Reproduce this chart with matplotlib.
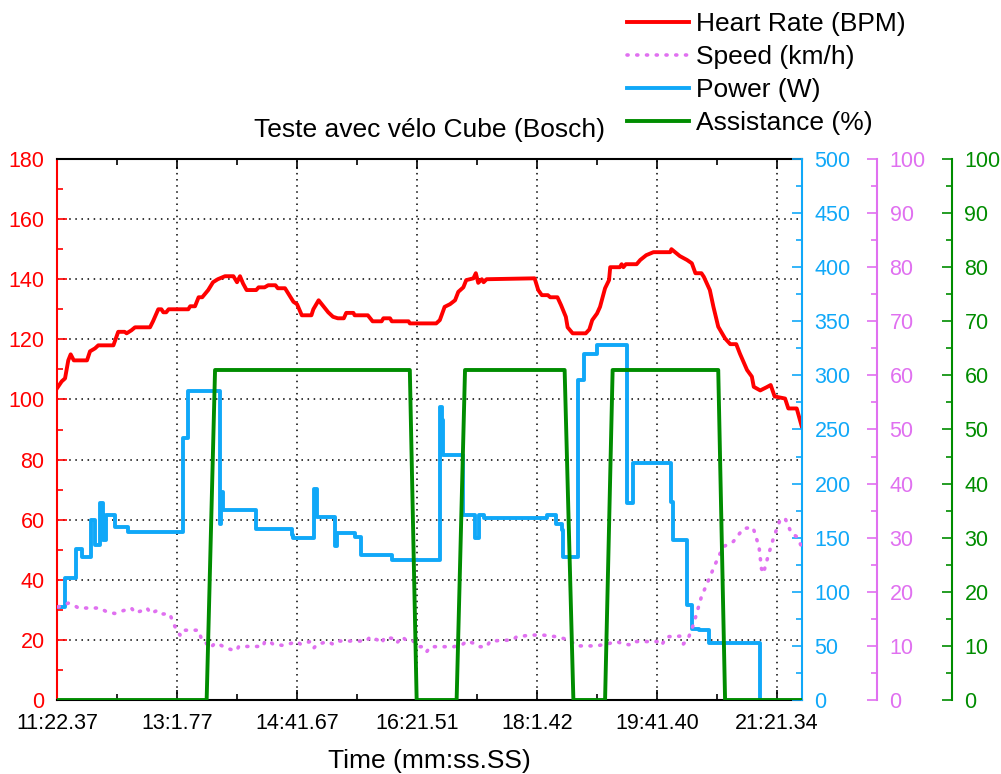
#!/usr/bin/env python3

import matplotlib
matplotlib.use('Agg')
import matplotlib.pyplot as plt
from matplotlib.ticker import MultipleLocator, FixedLocator

plt.rcParams['font.family'] = ['Liberation Sans', 'DejaVu Sans']

RED = '#ff0000'
BLUE = '#10a8f8'
VIOLET = '#e070f0'
GREEN = '#008c00'

# x is a sample index, ticks labelled with the session clock
tick_pos = [0, 100, 200, 300, 400, 500, 600]
tick_lab = ['11:22.37', '13:1.77', '14:41.67', '16:21.51', '18:1.42', '19:41.40', '21:21.34']

hr_x = [0, 3.9, 6.7, 9.4, 11.4, 14, 25, 27.5, 31.7, 34.4, 47, 51, 56.4, 58, 62, 65, 77.5, 80,
        84.4, 87, 88.6, 91, 93, 109.4, 111, 115, 118, 121, 126, 130, 134, 140, 147, 150, 152.5,
        155, 158, 166, 168, 173, 176, 182, 184, 190, 197, 200, 204, 212, 213.6, 218, 222, 226,
        230, 234, 239, 241, 247, 248, 259, 263, 270.5, 272, 277.5, 279, 293, 294, 316, 319, 323,
        327.5, 331.7, 334.4, 338.6, 341, 347, 349, 351, 354, 355.5, 358, 398, 401, 404, 409, 411,
        417, 420, 424, 425.5, 429.7, 440.6, 443.6, 446, 450, 452.5, 456.7, 460, 461, 469, 470.5,
        472, 474, 483, 486, 491, 497, 511, 512, 515, 519, 525, 529, 532, 537, 539, 544, 547, 551,
        556.7, 561, 566, 569, 575, 579, 580.6, 586, 591, 594.7, 598, 606.7, 609.4, 616.4, 620.6]
hr_y = [103.7, 106, 107, 113, 115, 113, 113, 116, 117, 118, 118, 122.5, 122.5, 122, 123, 124, 124, 126,
        130, 130, 129, 129, 130, 130, 131, 131, 134, 134, 136.4, 139, 140, 141, 141, 139, 141,
        138.6, 136.4, 136.4, 137.3, 137.3, 138, 138, 137, 137, 132.5, 131.7, 128, 128, 130, 133, 131, 129,
        127.5, 127, 127, 128.8, 128.8, 128, 128, 126, 126, 127, 127, 126, 126, 125.3, 125.3, 126.4, 130.8,
        131.7, 133, 135.8, 137.3, 139.7, 140.3, 142, 138.8, 140, 139, 140, 140.3, 136.4, 134.7, 134.7, 134,
        134, 131.4, 127.5, 124, 122, 122, 123.3, 126.4, 128.6, 130.8, 137, 139.7, 144, 144, 145,
        144, 145, 145, 146.4, 148, 149, 149, 150, 149, 147.7, 146.4, 145.3, 142, 142, 140.8, 136.4, 130.8, 124.2,
        120.3, 118.4, 118.4, 115.3, 109.8, 107.6, 104.2, 103, 104, 104.8, 101, 100.3, 97, 97, 91]

spd_x = [1, 9.4, 15, 17.8, 35.8, 41.4, 48, 55, 62, 65, 72, 75, 78, 83, 86, 94, 97, 99.7, 102.5, 104,
         118, 120.6, 123, 127.5, 131.7, 135, 141, 147, 150, 151.4, 172, 173, 177.5, 180, 188, 195.6,
         200, 203, 211, 214, 216.7, 226, 230, 234, 258, 261, 269, 270.6, 273, 279, 283, 287.5, 291.7,
         297, 301, 305, 308, 311, 330.6, 337.5, 341.7, 347, 351, 358, 361, 380, 383, 395.6, 405, 416,
         427, 433, 449.7, 461, 466.7, 472, 479, 482, 497, 502.5, 504, 508, 519, 522, 526, 530.3, 537,
         543, 548.3, 555, 563.6, 572, 580, 585, 587, 588.6, 592.8, 597, 602.5, 606.7, 612, 616.4, 620.6]
spd_y = [17.2, 17.9, 17.4, 17, 17, 16.3, 16, 16.5, 17, 16.1, 16.6, 17, 16, 16.5, 15.9, 15.9, 14.2, 12.9, 12, 12.9,
         12.9, 11.1, 10.9, 9.6, 10.5, 10.3, 9.6, 9.2, 9.2, 9.9, 9.9, 10.8, 10.8, 10.3, 10.1, 10.5,
         10.8, 10.3, 10.8, 9.6, 10.3, 10.8, 10.3, 10.9, 10.9, 11.7, 10.9, 10.5, 11.6, 11.4, 10.5, 11.7, 10.9,
         10.9, 9.85, 9.85, 8.9, 9.85, 9.85, 10.2, 10.9, 10.5, 9.85, 9.85, 10.9, 11.1, 11.7, 12, 12, 11.7,
         11.1, 10, 10, 10.5, 10.8, 10.3, 10.2, 10.8, 10.8, 10.8, 10.2, 11.7, 11.8, 10.35, 11.4, 13.9, 19.1,
         22.2, 25, 28.3, 29.3, 31.7, 31.9, 28.3, 24.3, 23.4, 26.8, 29.9, 33.3, 33.6, 30.8, 30.2, 28.3]

# power changes in steps: value holds from pw_x[i] until pw_x[i+1]
pw_x = [0, 6.7, 15.8, 20.6, 28, 31.7, 36, 38.6, 40.5, 48.3, 59.4, 104.7, 109.4, 135.8, 137, 138.5,
        165.8, 195.6, 197, 214, 216.3, 232, 233.5, 248.3, 253.6, 279, 319, 320.5, 322, 338.6, 348, 352,
        356, 408, 416, 420.6, 422, 434.4, 439, 450, 474.7, 480, 511.4, 513, 525, 529, 535, 543.6, 585.8]
pw_y = [86, 113, 140, 132.5, 166, 143, 182, 148, 171, 160, 155, 242, 286, 163, 192.5, 176,
        158, 152.5, 149.5, 195, 169, 142, 154, 151, 134, 129.4, 271, 259, 226, 171, 149.4, 171,
        168.5, 171, 163, 157, 132.4, 296, 320, 328, 182, 219, 183, 148, 88, 66, 64.7, 52.4, 0]

as_x = [0, 124.7, 131.7, 294, 299.7, 333, 340, 423, 430.3, 456.7, 463, 551, 556.7, 620.6]
as_y = [0, 0, 61, 61, 0, 0, 61, 61, 0, 0, 61, 61, 0, 0]


def main():
    fig = plt.figure(figsize=(10.01, 7.74), dpi=100)
    ax = fig.add_axes([57 / 1001, 1 - 700 / 774, 745 / 1001, 541 / 774])
    ax_p = ax.twinx()
    ax_s = ax.twinx()
    ax_a = ax.twinx()

    l_hr, = ax.plot(hr_x, hr_y, color=RED, lw=2.8, label='Heart Rate (BPM)')
    l_pw, = ax_p.plot(pw_x, pw_y, color=BLUE, lw=2.8, drawstyle='steps-post', label='Power (W)')
    l_sp, = ax_s.plot(spd_x, spd_y, color=VIOLET, lw=2.6, linestyle=(0, (0.3, 2.4)),
                      dash_capstyle='round', label='Speed (km/h)')
    l_as, = ax_a.plot(as_x, as_y, color=GREEN, lw=2.8, label='Assistance (%)')

    ax.set_xlim(0, 620.8)
    ax.set_ylim(0, 180)
    ax_p.set_ylim(0, 500)
    ax_s.set_ylim(0, 100)
    ax_a.set_ylim(0, 100)

    ax.xaxis.set_major_locator(FixedLocator(tick_pos))
    ax.set_xticklabels(tick_lab)
    ax.xaxis.set_minor_locator(MultipleLocator(50))
    ax.yaxis.set_major_locator(MultipleLocator(20))
    ax.yaxis.set_minor_locator(MultipleLocator(10))
    ax.grid(True, which='major', color='black', linestyle=(0, (1, 3)), lw=1.1)

    ax.tick_params(which='both', direction='in', top=True, right=False, width=1.2, labelsize=15.5, pad=9)
    ax.tick_params(which='major', length=7)
    ax.tick_params(which='minor', length=4)
    ax.tick_params(axis='y', which='both', colors=RED)
    ax.tick_params(axis='x', pad=9.5)
    ax.spines['left'].set_color(RED)
    ax.spines['right'].set_visible(False)
    for s in ax.spines.values():
        s.set_linewidth(1.5)

    for a, col, maj, mino, pos in [(ax_p, BLUE, 50, 25, 1.0), (ax_s, VIOLET, 10, 5, 1.1007),
                                   (ax_a, GREEN, 10, 5, 1.2013)]:
        for side in ['left', 'top', 'bottom']:
            a.spines[side].set_visible(False)
        a.spines['right'].set_position(('axes', pos))
        a.spines['right'].set_color(col)
        a.spines['right'].set_linewidth(1.5)
        a.yaxis.set_major_locator(MultipleLocator(maj))
        a.yaxis.set_minor_locator(MultipleLocator(mino))
        a.tick_params(axis='y', which='both', direction='in', colors=col, width=1.2, labelsize=15.5, pad=9)
        a.tick_params(axis='y', which='major', length=7)
        a.tick_params(axis='y', which='minor', length=4)

    ax.set_title('Teste avec vélo Cube (Bosch)', fontsize=19, pad=15.5)
    ax.set_xlabel('Time (mm:ss.SS)', fontsize=19, labelpad=11)

    fig.legend([l_hr, l_sp, l_pw, l_as], [l.get_label() for l in [l_hr, l_sp, l_pw, l_as]],
               loc='upper left', bbox_to_anchor=(627 / 1001, 1 - 12 / 774), frameon=False,
               fontsize=19, handlelength=2.35, handletextpad=0.27, labelspacing=0.34,
               borderpad=0, borderaxespad=0)

    plt.savefig('out.png', dpi=100)


if __name__ == "__main__":
    main()
